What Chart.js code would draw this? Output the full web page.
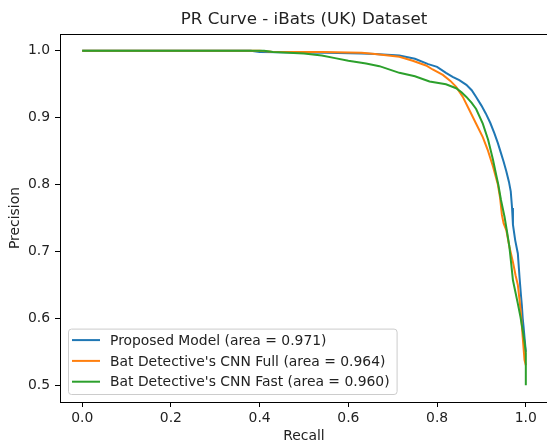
<!DOCTYPE html>
<html>
<head>
<meta charset="utf-8">
<script src="https://cdn.jsdelivr.net/npm/chart.js@4.4.0/dist/chart.umd.min.js"></script>
<style>
  html, body { margin: 0; padding: 0; background: #fff; overflow: hidden; }
  #wrap { width: 560px; height: 445px; }
</style>
</head>
<body>
<div id="wrap"><canvas id="chart-pr"></canvas></div>
<script>
// dados (recall, precision)
const seriesLabels = [
    'Proposed Model (area = 0.971)',
    "Bat Detective's CNN Full (area = 0.964)",
    "Bat Detective's CNN Fast (area = 0.960)"
];
const seriesColors = ['#1f77b4', '#ff7f0e', '#2ca02c'];

const recallProposed = [0, 0.2, 0.38, 0.40, 0.55, 0.63, 0.66, 0.715, 0.75, 0.78, 0.80, 0.82, 0.835, 0.85, 0.866, 0.878, 0.888, 0.90, 0.91, 0.92, 0.929, 0.937, 0.944, 0.95, 0.956, 0.962, 0.966, 0.969, 0.971, 0.976, 0.982, 0.986, 0.989, 0.991, 0.993, 0.995, 0.997, 1.0];
const precisionProposed = [1.0, 1.0, 1.0, 0.998, 0.997, 0.996, 0.995, 0.993, 0.988, 0.980, 0.976, 0.967, 0.961, 0.956, 0.949, 0.941, 0.931, 0.918, 0.906, 0.892, 0.877, 0.862, 0.847, 0.834, 0.820, 0.804, 0.790, 0.765, 0.740, 0.717, 0.697, 0.660, 0.635, 0.620, 0.600, 0.587, 0.572, 0.55];

const recallFull = [0, 0.2, 0.40, 0.427, 0.54, 0.63, 0.66, 0.715, 0.745, 0.775, 0.79, 0.813, 0.83, 0.843, 0.858, 0.873, 0.888, 0.903, 0.914, 0.926, 0.937, 0.942, 0.946, 0.95, 0.956, 0.963, 0.971, 0.977, 0.982, 0.986, 0.989, 0.993, 0.997, 1.0];
const precisionFull = [1.0, 1.0, 1.0, 0.9985, 0.998, 0.997, 0.995, 0.991, 0.985, 0.978, 0.972, 0.964, 0.955, 0.946, 0.931, 0.911, 0.891, 0.871, 0.852, 0.827, 0.800, 0.780, 0.755, 0.742, 0.732, 0.707, 0.684, 0.664, 0.650, 0.627, 0.607, 0.572, 0.538, 0.53];

const recallFast = [0, 0.2, 0.41, 0.43, 0.50, 0.54, 0.57, 0.60, 0.64, 0.67, 0.715, 0.75, 0.783, 0.82, 0.843, 0.855, 0.866, 0.878, 0.888, 0.903, 0.915, 0.926, 0.933, 0.938, 0.944, 0.952, 0.958, 0.963, 0.967, 0.971, 0.977, 0.982, 0.988, 0.993, 0.997, 1.0, 1.0];
const precisionFast = [1.0, 1.0, 1.0, 0.998, 0.996, 0.993, 0.989, 0.985, 0.981, 0.977, 0.967, 0.962, 0.954, 0.950, 0.944, 0.938, 0.931, 0.922, 0.913, 0.891, 0.867, 0.837, 0.815, 0.800, 0.777, 0.752, 0.728, 0.707, 0.682, 0.657, 0.638, 0.622, 0.602, 0.582, 0.565, 0.548, 0.5];

const xTicks = [0.0, 0.2, 0.4, 0.6, 0.8, 1.0];
const yTicks = [0.5, 0.6, 0.7, 0.8, 0.9, 1.0];

function pares(rs, ps){
    const pts = [];
    for(let i = 0; i < rs.length; ++i){
        pts.push({x: rs[i], y: ps[i]});
    }
    return pts;
}

const FONT = "'DejaVu Sans', sans-serif";
Chart.defaults.font.family = FONT;
Chart.defaults.color = '#222';

// moldura + legenda no estilo matplotlib
const molduraPlugin = {
    id: 'moldura',
    afterDatasetsDraw(chart){
        const {ctx, chartArea: a} = chart;
        ctx.save();
        ctx.strokeStyle = '#000';
        ctx.lineWidth = 1;
        ctx.strokeRect(Math.round(a.left) + 0.5, Math.round(a.top) + 0.5,
            Math.round(a.right - a.left), Math.round(a.bottom - a.top));
        ctx.restore();
    },
    afterDraw(chart){
        const ctx = chart.ctx;
        const a = chart.chartArea;
        const ds = chart.data.datasets;
        ctx.save();
        ctx.font = '13.9px ' + FONT;
        let maxW = 0;
        ds.forEach(d => { maxW = Math.max(maxW, ctx.measureText(d.label).width); });
        const x0 = a.left + 8, rowH = 20.8;
        const h = ds.length * rowH + 3;
        const y0 = a.bottom - 8 - h;
        const w = 42 + maxW + 7;
        ctx.beginPath();
        ctx.roundRect(x0 + 0.5, y0 + 0.5, w, h, 3);
        ctx.fillStyle = 'rgba(255,255,255,0.8)';
        ctx.fill();
        ctx.strokeStyle = '#cccccc';
        ctx.lineWidth = 1;
        ctx.stroke();
        ds.forEach((d, i) => {
            const yc = y0 + 11.5 + i * rowH;
            ctx.beginPath();
            ctx.moveTo(x0 + 4, yc);
            ctx.lineTo(x0 + 32, yc);
            ctx.strokeStyle = d.borderColor;
            ctx.lineWidth = 2;
            ctx.stroke();
            ctx.fillStyle = '#222';
            ctx.textBaseline = 'middle';
            ctx.fillText(d.label, x0 + 42, yc + 1);
        });
        ctx.restore();
    }
};

const recallSets = [recallProposed, recallFull, recallFast];
const precisionSets = [precisionProposed, precisionFull, precisionFast];

new Chart(document.getElementById('chart-pr').getContext('2d'), {
    type: 'line',
    data: {
        datasets: seriesLabels.map((lab, i) => ({
            label: lab,
            data: pares(recallSets[i], precisionSets[i]),
            borderColor: seriesColors[i],
            backgroundColor: seriesColors[i],
            borderWidth: 2,
            pointRadius: 0,
            tension: 0,
            fill: false,
            order: 3 - i
        }))
    },
    options: {
        responsive: true,
        maintainAspectRatio: false,
        animation: false,
        layout: {padding: {right: 12, top: 0, left: 0, bottom: 0}},
        scales: {
            x: {
                type: 'linear',
                min: -0.05,
                max: 1.05,
                afterBuildTicks: s => { s.ticks = xTicks.map(v => ({value: v})); },
                afterFit: s => { s.height = 43; },
                grid: {display: true, drawOnChartArea: false, drawTicks: true, tickLength: 5, tickColor: '#000'},
                border: {display: false},
                ticks: {padding: 3, font: {size: 13.9}, color: '#222', maxRotation: 0,
                    callback: v => v.toFixed(1)},
                title: {display: true, text: 'Recall', font: {size: 13.9}, color: '#222', padding: 0}
            },
            y: {
                type: 'linear',
                min: 0.475,
                max: 1.025,
                afterBuildTicks: s => { s.ticks = yTicks.map(v => ({value: v})); },
                afterFit: s => { s.width = 60; },
                grid: {display: true, drawOnChartArea: false, drawTicks: true, tickLength: 5, tickColor: '#000'},
                border: {display: false},
                ticks: {padding: 5, font: {size: 13.9}, color: '#222',
                    callback: v => v.toFixed(1)},
                title: {display: true, text: 'Precision', font: {size: 13.9}, color: '#222', padding: {top: 7, bottom: 0}}
            }
        },
        plugins: {
            legend: {display: false},
            tooltip: {enabled: false},
            title: {
                display: true,
                text: 'PR Curve - iBats (UK) Dataset',
                fullSize: false,
                align: 'center',
                position: 'top',
                font: {size: 16.7, weight: 'normal'},
                padding: {top: 10, bottom: 4},
                color: '#222'
            }
        }
    },
    plugins: [molduraPlugin]
});
</script>
</body>
</html>
